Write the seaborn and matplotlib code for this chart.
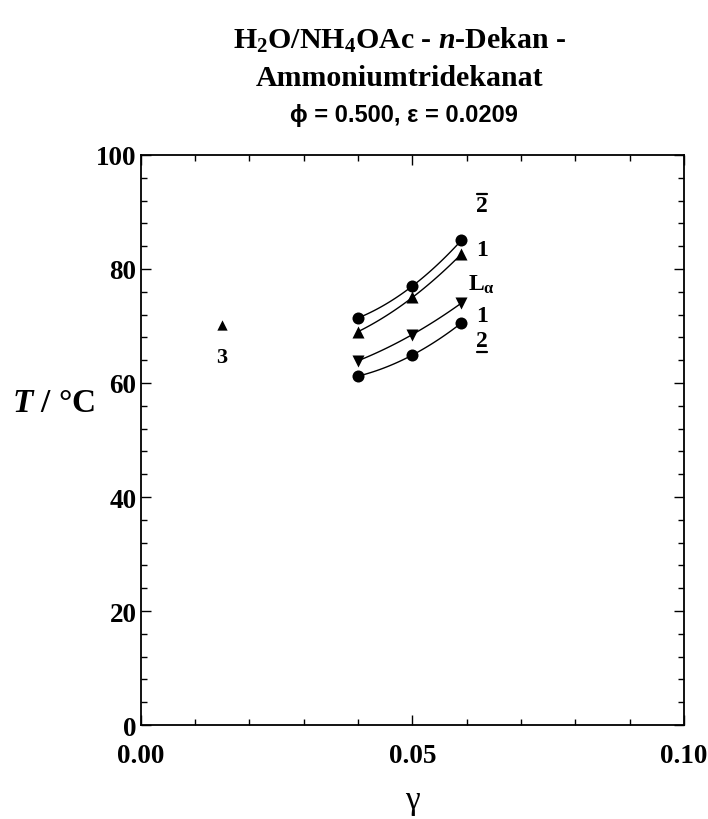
import numpy as np
import pandas as pd
import matplotlib
matplotlib.use("Agg")
import matplotlib.pyplot as plt
import seaborn as sns
from matplotlib.ticker import MultipleLocator, FormatStrFormatter
from matplotlib.lines import Line2D

# ---- data -------------------------------------------------------------
gamma = [0.040, 0.050, 0.059]
T_upper_2bar = [71.4, 77.0, 85.0]    # circles: 2bar -> 1
T_upper_La = [69.0, 75.0, 82.6]      # up triangles: 1 -> L_alpha
T_lower_La = [63.9, 68.5, 74.0]      # down triangles: L_alpha -> 1
T_lower_2 = [61.2, 64.9, 70.5]       # circles: 1 -> 2underline

gamma_3 = [0.015]
T_3 = [70.2]

phase_labels = ["2", "1", "L$_{\\mathrm{α}}$", "1", "2"]
phase_T = [91.1, 83.5, 77.4, 71.8, 67.4]
phase_bar = ["over", None, None, None, "under"]

series = [
    ("circ_up", T_upper_2bar, "o"),
    ("tri_up", T_upper_La, "^"),
    ("tri_dn", T_lower_La, "v"),
    ("circ_dn", T_lower_2, "o"),
]

# ---- style ------------------------------------------------------------
sns.set_theme(style="ticks")
plt.rcParams["font.family"] = ["Liberation Serif", "DejaVu Serif"]
plt.rcParams["font.weight"] = "bold"
plt.rcParams["text.color"] = "black"
plt.rcParams["axes.labelcolor"] = "black"
plt.rcParams["xtick.color"] = "black"
plt.rcParams["ytick.color"] = "black"
plt.rcParams["mathtext.fontset"] = "custom"
plt.rcParams["mathtext.rm"] = "Liberation Serif:bold"
plt.rcParams["mathtext.bf"] = "Liberation Serif:bold"
plt.rcParams["mathtext.it"] = "Liberation Serif:italic:bold"

fig = plt.figure(figsize=(7.08, 8.2), dpi=100)
ax = fig.add_axes([0.1987, 0.1146, 0.7674, 0.6952])

# smooth curves through each series, then the markers
for name, T, mk in series:
    coef = np.polyfit(gamma, T, 2)
    xs = np.linspace(gamma[0], gamma[-1], 60)
    curve = pd.DataFrame({"g": xs, "T": np.polyval(coef, xs)})
    sns.lineplot(data=curve, x="g", y="T", ax=ax, color="black",
                 linewidth=1.0, estimator=None, sort=False)
    pts = pd.DataFrame({"g": gamma, "T": T})
    sns.scatterplot(data=pts, x="g", y="T", ax=ax, marker=mk, s=75,
                    color="black", edgecolor="black", linewidth=0, zorder=3)

sns.scatterplot(x=gamma_3, y=T_3, ax=ax, marker="^", s=55,
                color="black", edgecolor="black", linewidth=0, zorder=3)
ax.text(gamma_3[0], 64.5, "3", ha="center", va="center", fontsize=16,
        fontweight="bold")

# phase labels right of the curves
label_x = 0.0628
texts = []
for lab, t, bar in zip(phase_labels, phase_T, phase_bar):
    tx = ax.text(label_x, t, lab, ha="center", va="center", fontsize=17,
                 fontweight="bold")
    texts.append((tx, bar))

ax.set_xlim(0, 0.10)
ax.set_ylim(0, 100)
ax.xaxis.set_major_locator(MultipleLocator(0.05))
ax.xaxis.set_minor_locator(MultipleLocator(0.01))
ax.xaxis.set_major_formatter(FormatStrFormatter("%.2f"))
ax.yaxis.set_major_locator(MultipleLocator(20))
ax.yaxis.set_minor_locator(MultipleLocator(4))
ax.tick_params(which="both", direction="in", top=True, right=True,
               colors="black", width=1.0)
ax.tick_params(which="major", length=7, labelsize=19.5)
ax.tick_params(which="minor", length=4)
ax.tick_params(axis="x", which="major", pad=13)
ax.tick_params(axis="y", which="major", pad=3)
for lbl in ax.get_xticklabels() + ax.get_yticklabels():
    lbl.set_fontweight("bold")
for sp in ax.spines.values():
    sp.set_color("black")
    sp.set_linewidth(1.3)

ax.set_xlabel("γ", fontsize=24, fontweight="normal")
ax.xaxis.set_label_coords(0.5, -0.105)
ax.set_ylabel("$\\mathit{T}$ / °C", fontsize=24, fontweight="bold",
              rotation=0, ha="center", va="center")
ax.yaxis.set_label_coords(-0.16, 0.565)

# headings
fig.text(0.564, 0.951, "H$_2$O/NH$_4$OAc - $\\mathit{n}$-Dekan -",
         ha="center", va="center", fontsize=21.5, fontweight="bold")
fig.text(0.564, 0.904, "Ammoniumtridekanat", ha="center", va="center",
         fontsize=21.5, fontweight="bold")
fig.text(0.570, 0.859, "ϕ = 0.500, ε = 0.0209", ha="center", va="center",
         fontsize=17, fontweight="bold",
         family=["Liberation Sans", "DejaVu Sans"])

# over/underline bars for the "2" labels
fig.canvas.draw()
renderer = fig.canvas.get_renderer()
inv = ax.transData.inverted()
for tx, bar in texts:
    if bar is None:
        continue
    bb = tx.get_window_extent(renderer)
    if bar == "over":
        yy = bb.y1 + 1
    else:
        yy = bb.y0 - 1
    (x0, y0), (x1, _) = inv.transform([(bb.x0 + 1, yy), (bb.x1 - 1, yy)])
    ax.add_line(Line2D([x0, x1], [y0, y0], color="black", linewidth=1.6,
                       clip_on=False))

fig.savefig("out.png", dpi=100)
